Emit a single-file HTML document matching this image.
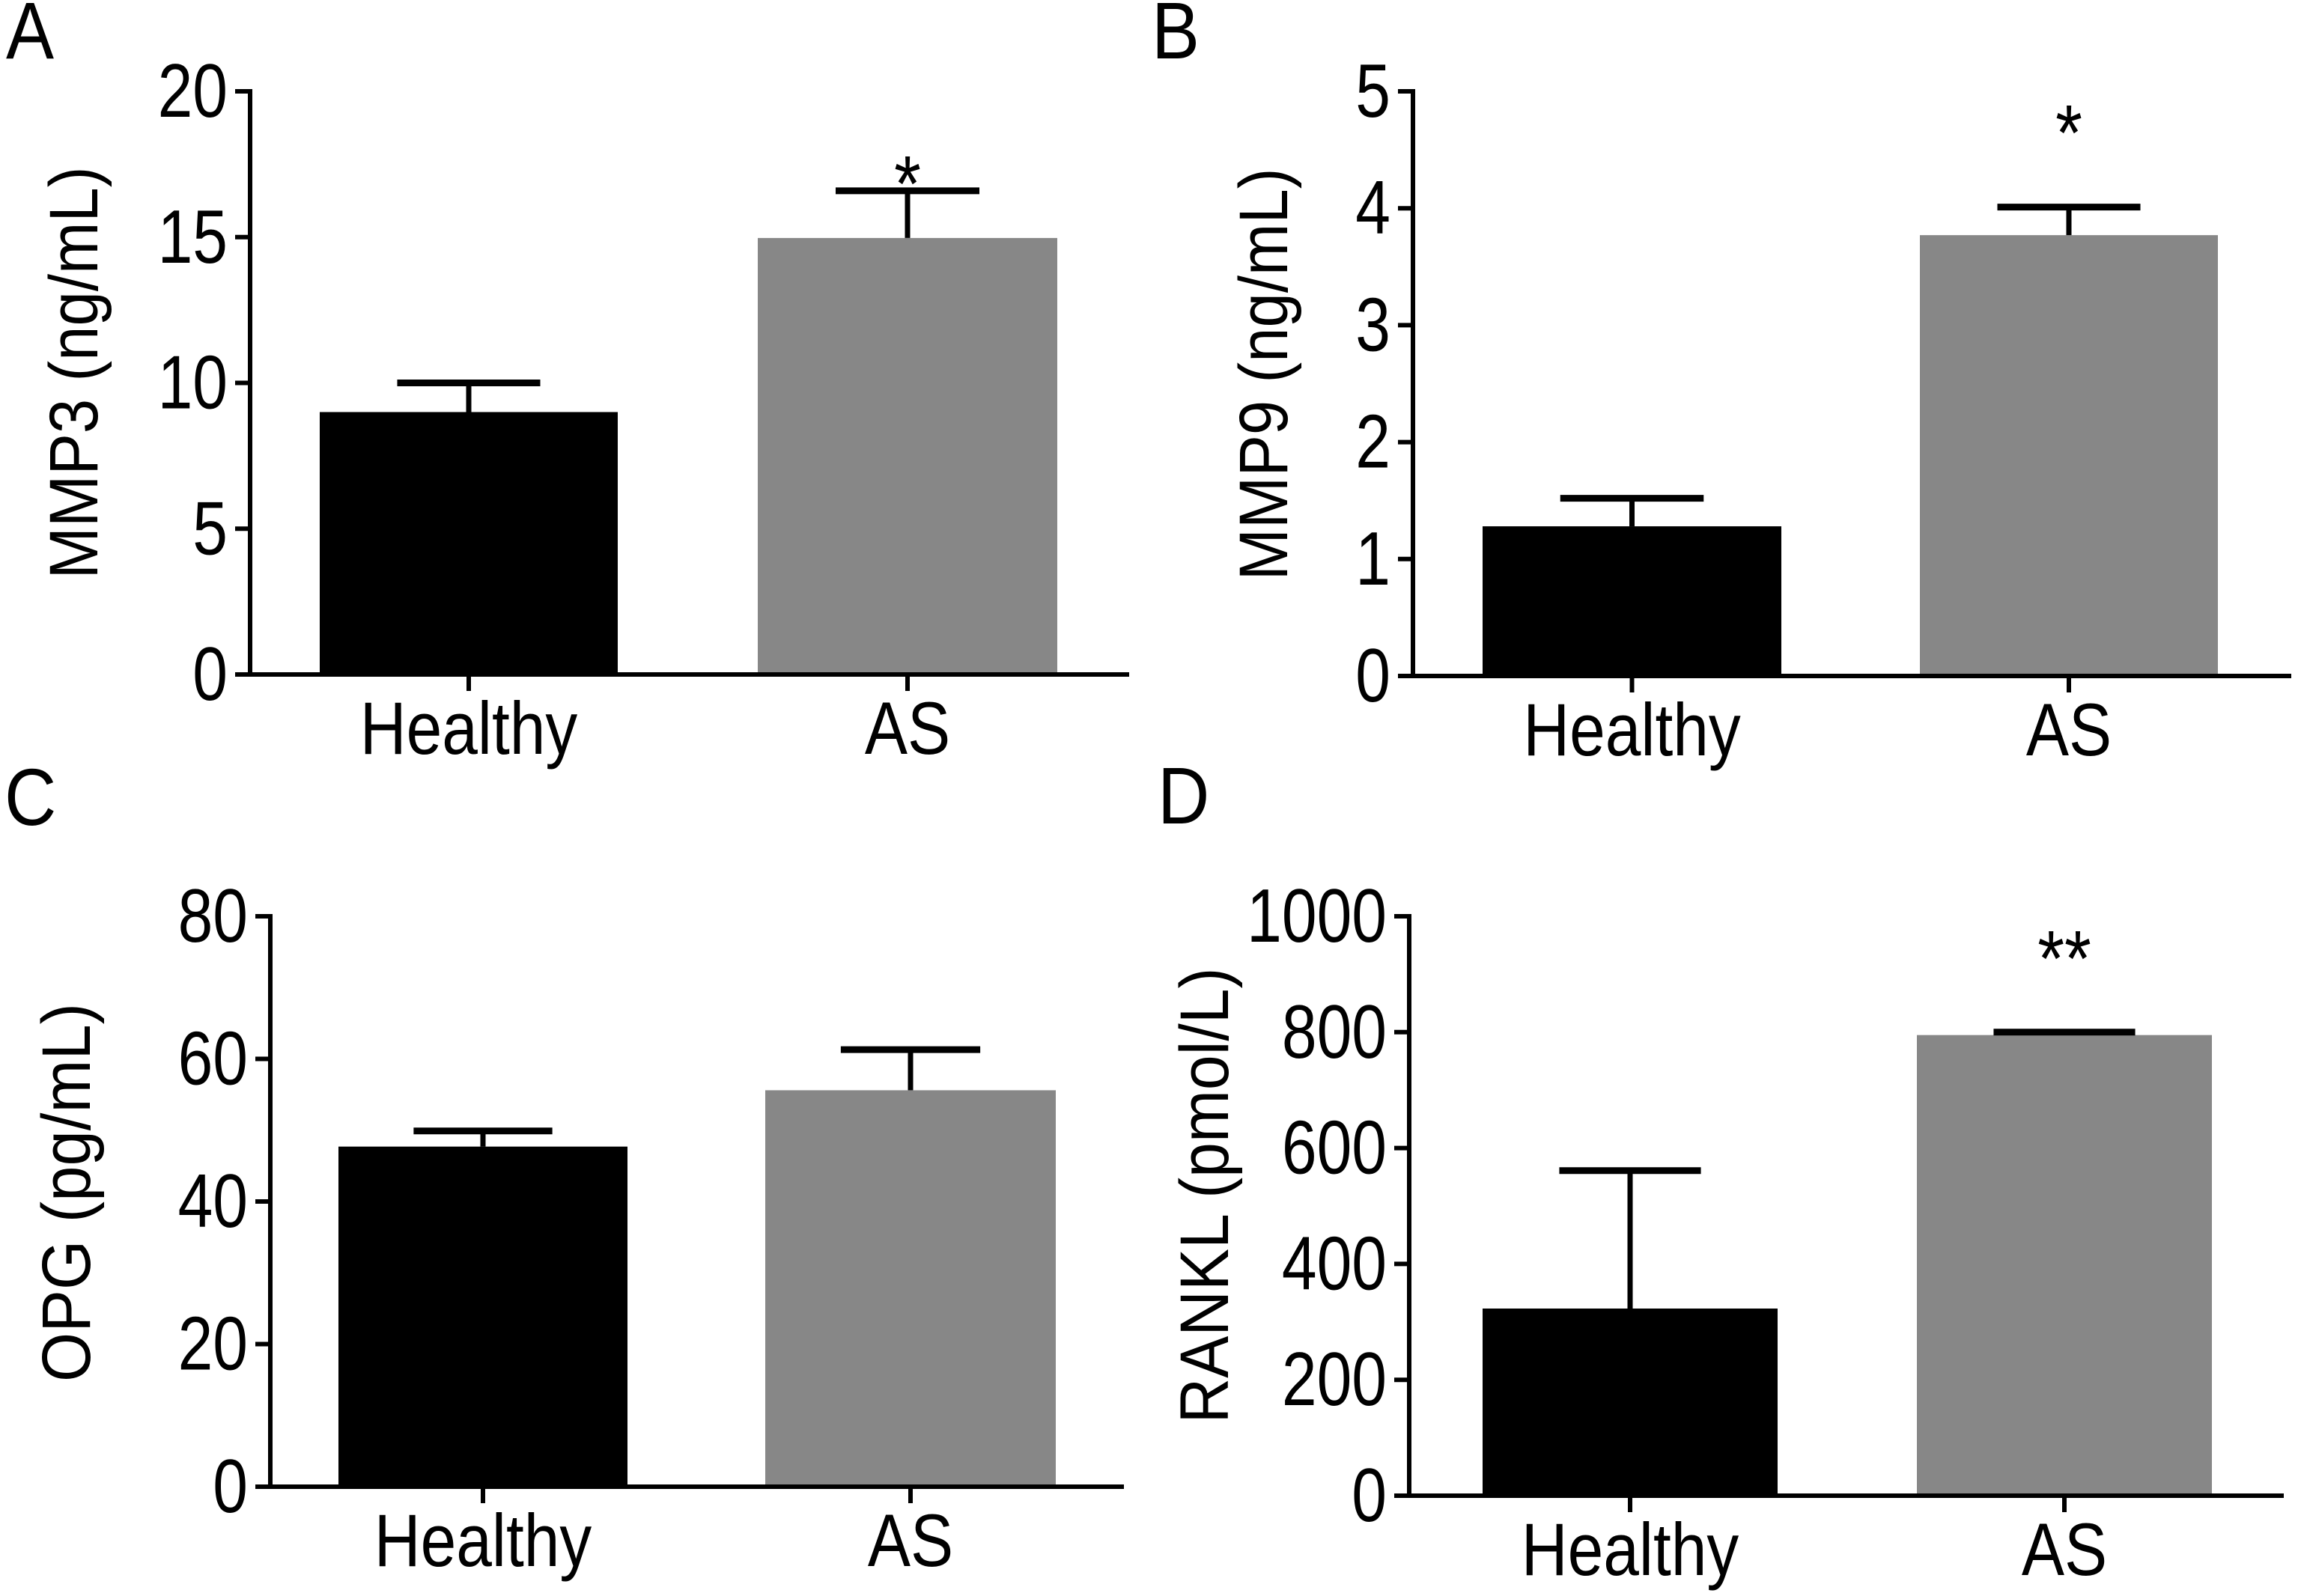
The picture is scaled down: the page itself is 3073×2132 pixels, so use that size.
<!DOCTYPE html>
<html><head><meta charset="utf-8"><style>
html,body{margin:0;padding:0;background:#fff;}
svg{display:block;}
text{font-family:"Liberation Sans",Arial,sans-serif;fill:#000;}
</style></head>
<body>
<svg id="fig" width="3073" height="2132" viewBox="0 0 3073 2132" xmlns="http://www.w3.org/2000/svg"></svg>
<script>
// Data
const categories = ["Healthy", "AS"];
const mmp3Means = [9.0, 14.97];
const mmp3Errors = [1.0, 1.62];
const mmp9Means = [1.28, 3.77];
const mmp9Errors = [0.24, 0.24];
const opgMeans = [47.7, 55.6];
const opgErrors = [2.2, 5.7];
const ranklMeans = [323, 795];
const ranklErrors = [238, 5];
const mmp3Ticks = [0, 5, 10, 15, 20];
const mmp9Ticks = [0, 1, 2, 3, 4, 5];
const opgTicks = [0, 20, 40, 60, 80];
const ranklTicks = [0, 200, 400, 600, 800, 1000];
const panelLetters = ["A", "B", "C", "D"];
const yTitles = ["MMP3 (ng/mL)", "MMP9 (ng/mL)", "OPG  (pg/mL)", "RANKL (pmol/L)"];
const stars = ["*", "*", "", "**"];

const NS = "http://www.w3.org/2000/svg";
const svg = document.getElementById("fig");
function el(tag, attrs, parent) {
  const e = document.createElementNS(NS, tag);
  for (const k in attrs) e.setAttribute(k, attrs[k]);
  (parent || svg).appendChild(e);
  return e;
}
function txt(parent, x, y, size, anchor, sx, sy, str) {
  const t = el("text", {x: 0, y: 0, "font-size": size, "text-anchor": anchor,
    transform: `translate(${x},${y}) scale(${sx},${sy})`}, parent);
  t.textContent = str;
  return t;
}

const panels = [
  {means: mmp3Means, errs: mmp3Errors, ticks: mmp3Ticks, ax: 334, xEnd: 1508, yTop: 122, y0: 901,
   bars: [[427, 825], [1012, 1412]], letter: [8, 78], title: [98, 498, 551], starY: 282, key: "mmp3"},
  {means: mmp9Means, errs: mmp9Errors, ticks: mmp9Ticks, ax: 1887, xEnd: 3060, yTop: 122, y0: 903,
   bars: [[1980, 2379], [2564, 2962]], letter: [1538, 78], title: [1687, 500, 551], starY: 214, key: "mmp9"},
  {means: opgMeans, errs: opgErrors, ticks: opgTicks, ax: 361, xEnd: 1501, yTop: 1224, y0: 1986,
   bars: [[452, 838], [1022, 1410]], letter: [6, 1102], title: [88, 1593, 506], starY: 0, key: "opg"},
  {means: ranklMeans, errs: ranklErrors, ticks: ranklTicks, ax: 1882, xEnd: 3050, yTop: 1224, y0: 1998,
   bars: [[1980, 2374], [2560, 2954]], letter: [1546, 1100], title: [1608, 1597, 609], starY: 1317, key: "rankl"}
];
const fills = ["#000000", "#878787"];

panels.forEach((p, pi) => {
  const g = el("g", {});
  
  
  const tmax = p.ticks[p.ticks.length - 1];
  const yScale = v => p.y0 - (v / tmax) * (p.y0 - p.yTop);

  const L = txt(g, p.letter[0], p.letter[1], 96, "start", 1.0, 1.12, panelLetters[pi]);
  
  

  p.means.forEach((m, i) => {
    const [x1, x2] = p.bars[i];
    const cx = (x1 + x2) / 2;
    const bw = x2 - x1;
    const top = yScale(m);
    const bar = el("rect", {x: x1, y: top, width: bw, height: p.y0 - top, fill: fills[i]}, g);
    
    
    const et = yScale(m + p.errs[i]);
    const eg = el("g", {stroke: "#000", "stroke-width": 7, fill: "none"}, g);
    
    
    el("line", {x1: cx, x2: cx, y1: top, y2: et}, eg);
    el("line", {x1: cx - bw * 0.24, x2: cx + bw * 0.24, y1: et, y2: et, "stroke-width": 9}, eg);
    el("line", {x1: cx, x2: cx, y1: p.y0, y2: p.y0 + 22, stroke: "#000", "stroke-width": 6}, g);
    const cl = txt(g, cx, p.y0 + 106, 84, "middle", 1.02, 1.18, categories[i]);
    
    
    if (i === 1 && stars[pi]) {
      const st = txt(g, cx, p.starY, 92, "middle", 1.0, 1.15, stars[pi]);
      
      
    }
  });

  const axes = el("g", {stroke: "#000", "stroke-width": 6}, g);
  
  
  el("line", {x1: p.ax, x2: p.ax, y1: p.yTop - 3, y2: p.y0 + 3}, axes);
  el("line", {x1: p.ax - 3, x2: p.xEnd, y1: p.y0, y2: p.y0}, axes);
  p.ticks.forEach(t => {
    const y = yScale(t);
    el("line", {x1: p.ax - 20, x2: p.ax, y1: y, y2: y}, axes);
    const tl = txt(g, p.ax - 30, y + 34, 84, "end", 1.0, 1.2, String(t));
    
    
  });

  const [tx, ty, tlen] = p.title;
  const yt = el("text", {x: 0, y: 0, "font-size": 92, "text-anchor": "middle",
    transform: `translate(${tx + 32},${ty}) rotate(-90)`, textLength: tlen, lengthAdjust: "spacingAndGlyphs"}, g);
  yt.textContent = yTitles[pi];
  
  
});
</script>
</body></html>
